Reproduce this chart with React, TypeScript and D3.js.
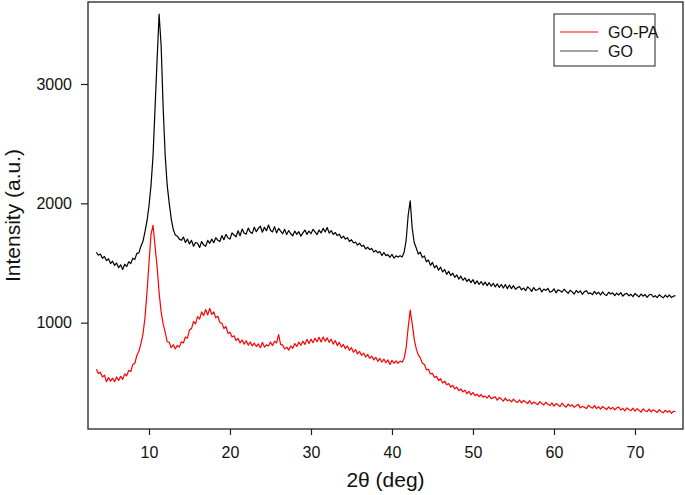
import React, { useRef, useEffect } from 'react';
import * as d3 from 'd3';

// XRD scan: 2θ from 3.5° to 75° in 0.25° steps
const twoThetaStart = 3.5;
const twoThetaStep = 0.25;

const goCounts = [
  1590, 1565,
  1575, 1540, 1555, 1520, // 4
  1535, 1495, 1515, 1480,
  1500, 1460, 1485, 1445,
  1490, 1470, 1510, 1495,
  1540, 1530, 1580, 1585,
  1640, 1680, 1760, 1850, // 9
  1980, 2150, 2400, 2800,
  3200, 3585, 3320, 2800,
  2400, 2150, 2000, 1870,
  1780, 1735, 1725, 1700,
  1690, 1718, 1672, 1700, // 14
  1660, 1690, 1640, 1672,
  1665, 1630, 1680, 1650,
  1640, 1690, 1665, 1700,
  1670, 1712, 1690, 1680,
  1730, 1695, 1740, 1712, // 19
  1700, 1752, 1735, 1720,
  1770, 1728, 1784, 1750,
  1742, 1792, 1760, 1748,
  1800, 1762, 1790, 1808,
  1758, 1800, 1770, 1818, // 24
  1775, 1760, 1805, 1752,
  1790, 1768, 1745, 1782,
  1738, 1772, 1745, 1728,
  1768, 1740, 1762, 1725,
  1752, 1776, 1740, 1768, // 29
  1745, 1782, 1760, 1738,
  1776, 1752, 1790, 1760,
  1798, 1750, 1772, 1740,
  1755, 1730, 1742, 1708,
  1725, 1700, 1712, 1680, // 34
  1695, 1668, 1676, 1650,
  1666, 1640, 1648, 1618,
  1632, 1612, 1622, 1592,
  1605, 1585, 1596, 1562,
  1588, 1562, 1570, 1548, // 39
  1572, 1540, 1560, 1550,
  1560, 1550, 1590, 1690,
  1900, 2020, 1790, 1670,
  1625, 1575, 1590, 1545,
  1560, 1510, 1525, 1480, // 44
  1505, 1460, 1480, 1440,
  1465, 1425, 1445, 1405,
  1430, 1395, 1415, 1380,
  1400, 1365, 1390, 1355,
  1375, 1345, 1365, 1335, // 49
  1360, 1325, 1350, 1320,
  1345, 1315, 1340, 1310,
  1335, 1305, 1330, 1300,
  1325, 1295, 1320, 1290,
  1320, 1285, 1315, 1285, // 54
  1310, 1280, 1295, 1302,
  1275, 1290, 1268, 1300,
  1285, 1262, 1294, 1270,
  1278, 1290, 1258, 1282,
  1270, 1288, 1255, 1262, // 59
  1284, 1250, 1275, 1268,
  1255, 1280, 1262, 1246,
  1272, 1258, 1240, 1270,
  1252, 1266, 1238, 1260,
  1268, 1242, 1250, 1235, // 64
  1262, 1240, 1255, 1232,
  1258, 1236, 1228, 1255,
  1240, 1250, 1226, 1248,
  1232, 1252, 1222, 1240,
  1246, 1225, 1238, 1218, // 69
  1244, 1230, 1216, 1240,
  1222, 1236, 1212, 1232,
  1238, 1215, 1226, 1210,
  1234, 1220, 1208, 1230,
  1214, 1232, 1210, 1222, // 74
  1226,
];

const goPaCounts = [
  610, 575,
  585, 545, 560, 505, // 4
  540, 510, 535, 505,
  545, 515, 550, 525,
  570, 555, 600, 590,
  650, 660, 725, 760,
  825, 900, 1040, 1250, // 9
  1500, 1740, 1815, 1640,
  1470, 1250, 1090, 990,
  920, 840, 835, 790,
  815, 780, 810, 795,
  840, 830, 880, 870, // 14
  940, 950, 1010, 990,
  1050, 1030, 1090, 1060,
  1110, 1065, 1120, 1070,
  1090, 1040, 1055, 1000,
  995, 950, 968, 910, // 19
  920, 880, 890, 850,
  868, 830, 855, 820,
  848, 812, 838, 805,
  828, 800, 822, 790,
  835, 795, 815, 805, // 24
  838, 808, 845, 830,
  900, 818, 812, 780,
  795, 770, 805, 785,
  825, 800, 838, 810,
  845, 818, 860, 825, // 29
  862, 832, 870, 840,
  878, 838, 880, 845,
  872, 835, 862, 820,
  850, 808, 835, 795,
  818, 782, 805, 768, // 34
  790, 752, 775, 738,
  760, 725, 745, 712,
  735, 700, 720, 688,
  710, 676, 700, 670,
  695, 664, 688, 650, // 39
  685, 660, 680, 658,
  678, 668, 700, 790,
  960, 1105, 990, 860,
  780, 730, 705, 660,
  650, 605, 610, 570, // 44
  575, 540, 550, 515,
  530, 495, 510, 480,
  490, 460, 475, 445,
  460, 430, 445, 420,
  435, 405, 425, 395, // 49
  415, 388, 402, 380,
  398, 376, 385, 368,
  390, 362, 372, 378,
  350, 372, 360, 342,
  368, 345, 355, 336, // 54
  360, 340, 332, 352,
  328, 348, 336, 322,
  346, 318, 334, 325,
  312, 338, 322, 310,
  334, 316, 305, 328, // 59
  300, 322, 312, 298,
  325, 304, 292, 318,
  300, 312, 290, 305,
  315, 286, 298, 292,
  280, 308, 294, 283, // 64
  305, 280, 296, 276,
  298, 285, 272, 295,
  276, 290, 270, 286,
  292, 268, 282, 260,
  286, 272, 262, 284, // 69
  258, 280, 266, 250,
  278, 262, 255, 276,
  252, 270, 260, 248,
  272, 254, 245, 266,
  250, 262, 240, 258, // 74
  255,
];

const xTicks = [10, 20, 30, 40, 50, 60, 70];
const yTicks = [1000, 2000, 3000];
const legendLabels = ['GO-PA', 'GO'];
const seriesColors = ['#ff0000', '#000000'];

const W = 685;
const H = 495;
const plot = { left: 88, top: 2, right: 683, bottom: 429 };
const font = '"Liberation Sans", Arial, sans-serif';

const App = () => {
  const ref = useRef<SVGSVGElement>(null);

  useEffect(() => {
    const svg = d3.select(ref.current);
    svg.selectAll('*').remove();

    const x = d3.scaleLinear().domain([2.47, 75.93]).range([plot.left, plot.right]);
    const y = d3.scaleLinear().domain([109, 3687]).range([plot.bottom, plot.top]);

    const toPoints = (counts: number[]) =>
      counts.map((c, i) => [twoThetaStart + i * twoThetaStep, c] as [number, number]);

    const line = d3.line<[number, number]>()
      .x(d => x(d[0]))
      .y(d => y(d[1]));

    // GO first so GO-PA sits on top where they meet
    [goCounts, goPaCounts].forEach((counts, i) => {
      svg.append('path')
        .datum(toPoints(counts))
        .attr('fill', 'none')
        .attr('stroke', i === 0 ? seriesColors[1] : seriesColors[0])
        .attr('stroke-width', 1.2)
        .attr('stroke-linejoin', 'round')
        .attr('d', line);
    });

    // frame
    svg.append('rect')
      .attr('x', plot.left)
      .attr('y', plot.top)
      .attr('width', plot.right - plot.left)
      .attr('height', plot.bottom - plot.top)
      .attr('fill', 'none')
      .attr('stroke', '#222')
      .attr('stroke-width', 1.3);

    const xAxis = svg.append('g')
      .attr('transform', `translate(0, ${plot.bottom})`)
      .call(d3.axisBottom(x).tickValues(xTicks).tickSize(6).tickSizeOuter(0).tickPadding(12));
    xAxis.select('.domain').remove();

    const yAxis = svg.append('g')
      .attr('transform', `translate(${plot.left}, 0)`)
      .call(d3.axisLeft(y).tickValues(yTicks).tickSize(7).tickSizeOuter(0).tickPadding(9).tickFormat(d3.format('d')));
    yAxis.select('.domain').remove();

    svg.selectAll('.tick line').attr('stroke', '#222').attr('stroke-width', 1.2);
    svg.selectAll('.tick text')
      .attr('fill', '#111')
      .style('font-family', font)
      .style('font-size', '16px');

    // axis titles
    svg.append('text')
      .attr('x', (plot.left + plot.right) / 2)
      .attr('y', 487)
      .attr('text-anchor', 'middle')
      .style('font-family', font)
      .style('font-size', '21px')
      .attr('fill', '#111')
      .text('2θ (deg)');

    svg.append('text')
      .attr('transform', `translate(20, ${(plot.top + plot.bottom) / 2}) rotate(-90)`)
      .attr('text-anchor', 'middle')
      .style('font-family', font)
      .style('font-size', '21px')
      .attr('fill', '#111')
      .text('Intensity (a.u.)');

    // legend
    const legend = svg.append('g');
    legend.append('rect')
      .attr('x', 554).attr('y', 14)
      .attr('width', 101).attr('height', 52)
      .attr('fill', 'white')
      .attr('stroke', '#222')
      .attr('stroke-width', 1);
    legendLabels.forEach((label, i) => {
      const ly = 32 + i * 19;
      legend.append('line')
        .attr('x1', 560).attr('x2', 598)
        .attr('y1', ly).attr('y2', ly)
        .attr('stroke', i === 0 ? seriesColors[0] : '#444')
        .attr('stroke-width', 1);
      legend.append('text')
        .attr('x', 608)
        .attr('y', ly + 5.5)
        .style('font-family', font)
        .style('font-size', '16px')
        .attr('fill', '#111')
        .text(label);
    });
  }, []);

  return (
    <svg
      ref={ref}
      width={W}
      height={H}
      style={{ position: 'absolute', left: 0, top: 0, background: 'white' }}
    />
  );
};

export default App;
